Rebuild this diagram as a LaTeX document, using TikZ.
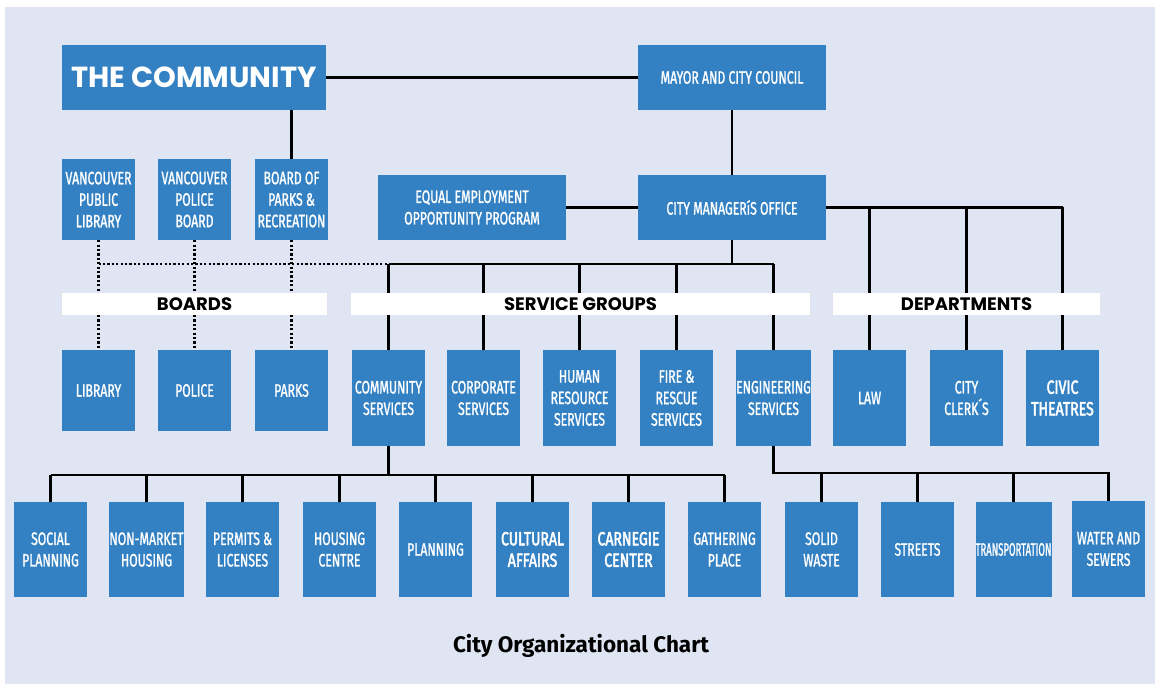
\documentclass[tikz,border=0pt]{standalone}
\usepackage{fontspec}
\setmainfont{Fira Sans}
\newfontfamily\boxfont[FakeStretch=0.68, FakeBold=1.2]{Fira Sans}
\newfontfamily\heavyboxfont[FakeStretch=0.74, FakeBold=2.4]{Fira Sans}
\newfontfamily\futfont{Poppins}
\newfontfamily\capfont{Fira Sans}
\definecolor{boxblue}{RGB}{51,129,195}
\definecolor{bgblue}{RGB}{223,229,243}
\tikzset{
  box/.style={fill=boxblue, text=white, inner sep=0pt, align=center,
    font=\boxfont\fontsize{18}{21.5}\selectfont},
  boldbox/.style={font=\heavyboxfont\fontsize{19}{21.5}\selectfont},
  band/.style={fill=white, inner sep=0pt, text=black,
    font=\futfont\bfseries\fontsize{18}{20}\selectfont},
  conn/.style={line width=2.6pt, black},
  dots/.style={line width=2.2pt, black, dash pattern=on 2.2pt off 2.2pt}
}
\newcommand\bx[7][]{\node[box, #1, minimum width={#5pt-#3pt}, minimum height={#6pt-#4pt}]
  (#2) at ({(#3+#5)/2},{(#4+#6)/2}) {#7};}
\newcommand\bd[6]{\node[band, minimum width={#4pt-#2pt}, minimum height={#5pt-#3pt}]
  (#1) at ({(#2+#4)/2},{(#3+#5)/2}) {#6};}
\begin{document}
\begin{tikzpicture}[x=1pt,y=-1pt]
\useasboundingbox (0,0) rectangle (1155,684);
\fill[white] (0,0) rectangle (1155,684);
\fill[bgblue] (5,7) rectangle (1155,684);
% top
\node[box, minimum width=264pt, minimum height=65pt, font=\futfont\bfseries\fontsize{29}{31}\selectfont] (comm) at (194,77.5) {THE COMMUNITY};
\bx{mayor}{638}{45}{826}{110}{MAYOR AND CITY COUNCIL}
\bx{mgr}{638}{175}{826}{240}{CITY MANAGERíS OFFICE}
\bx{eeop}{378}{175}{566}{240}{EQUAL EMPLOYMENT\\OPPORTUNITY PROGRAM}
% boards
\bx{vpl}{62}{159}{135}{240}{VANCOUVER\\PUBLIC\\LIBRARY}
\bx{vpb}{158}{159}{231}{240}{VANCOUVER\\POLICE\\BOARD}
\bx{bpr}{255}{159}{328}{240}{BOARD OF\\PARKS \&\\RECREATION}
\bx{library}{62}{350}{135}{431}{LIBRARY}
\bx{police}{158}{350}{231}{431}{POLICE}
\bx{parks}{255}{350}{328}{431}{PARKS}
% service groups
\bx{cs}{352}{350}{425}{446}{COMMUNITY\\SERVICES}
\bx{corp}{447}{350}{520}{446}{CORPORATE\\SERVICES}
\bx{hr}{543}{350}{616}{446}{HUMAN\\RESOURCE\\SERVICES}
\bx{fire}{640}{350}{713}{446}{FIRE \&\\RESCUE\\SERVICES}
\bx{eng}{737}{350}{810}{446}{ENGINEERING\\SERVICES}
% departments
\bx{law}{833}{350}{906}{446}{LAW}
\bx{clerk}{930}{350}{1003}{446}{CITY\\CLERK´S}
\bx[boldbox]{civic}{1026}{350}{1099}{446}{CIVIC\\THEATRES}
% bottom row
\bx{social}{14}{502}{87}{597}{SOCIAL\\PLANNING}
\bx{nonmkt}{110}{502}{183}{597}{NON-MARKET\\HOUSING}
\bx{permits}{206}{502}{279}{597}{PERMITS \&\\LICENSES}
\bx{housing}{303}{502}{376}{597}{HOUSING\\CENTRE}
\bx{planning}{399}{502}{472}{597}{PLANNING}
\bx[boldbox]{cultural}{496}{502}{569}{597}{CULTURAL\\AFFAIRS}
\bx[boldbox]{carnegie}{592}{502}{665}{597}{CARNEGIE\\CENTER}
\bx{gathering}{688}{502}{761}{597}{GATHERING\\PLACE}
\bx{solid}{785}{502}{858}{597}{SOLID\\WASTE}
\bx{streets}{881}{502}{954}{597}{STREETS}
\bx{transp}{976}{502}{1051}{597}{\scalebox{0.78}[1]{TRANSPORTATION}}
\bx{water}{1072}{501}{1145}{597}{WATER AND\\SEWERS}
% buses
\coordinate (sbus) at (0,264);
\coordinate (cbus) at (0,475);
\coordinate (ebus) at (0,473);
% connectors
\draw[conn] (comm) -- (mayor);
\draw[conn] (bpr.north) -- (bpr.north |- comm.south);
\draw[conn] (mayor) -- (mgr);
\draw[conn] (eeop) -- (mgr);
\draw[conn] (mgr.south) -- (mgr.south |- sbus);
\draw[conn] (cs.north |- sbus) -- (eng.north |- sbus);
\foreach \n in {cs,corp,hr,fire,eng}{\draw[conn] (\n.north) -- (\n.north |- sbus);}
\draw[conn] (mgr.east) -- (civic.north |- mgr.east);
\foreach \n in {law,clerk,civic}{\draw[conn] (\n.north) -- (\n.north |- mgr.east);}
\draw[dots] (vpl.south |- sbus) -- (cs.north |- sbus);
\draw[dots] (vpl) -- (library);
\draw[dots] (vpb) -- (police);
\draw[dots] (bpr) -- (parks);
\draw[conn] (cs.south) -- (cs.south |- cbus);
\draw[conn] (social.north |- cbus) -- (gathering.north |- cbus);
\foreach \n in {social,nonmkt,permits,housing,planning,cultural,carnegie,gathering}{\draw[conn] (\n.north) -- (\n.north |- cbus);}
\coordinate (eend) at (water.north |- ebus);
\draw[conn] (eng.south) |- (eend) -- (water.north);
\foreach \n in {solid,streets,transp}{\draw[conn] (\n.north) -- (\n.north |- ebus);}
% bands
\bd{boardsband}{62}{293}{327}{315}{BOARDS}
\bd{sgband}{351}{293}{810}{315}{SERVICE GROUPS}
\bd{deptband}{833}{293}{1100}{315}{DEPARTMENTS}
% caption
\node[font=\capfont\bfseries\fontsize{22.5}{25}\selectfont, inner sep=0pt] (caption) at (581,646) {City Organizational Chart};
\end{tikzpicture}
\end{document}
